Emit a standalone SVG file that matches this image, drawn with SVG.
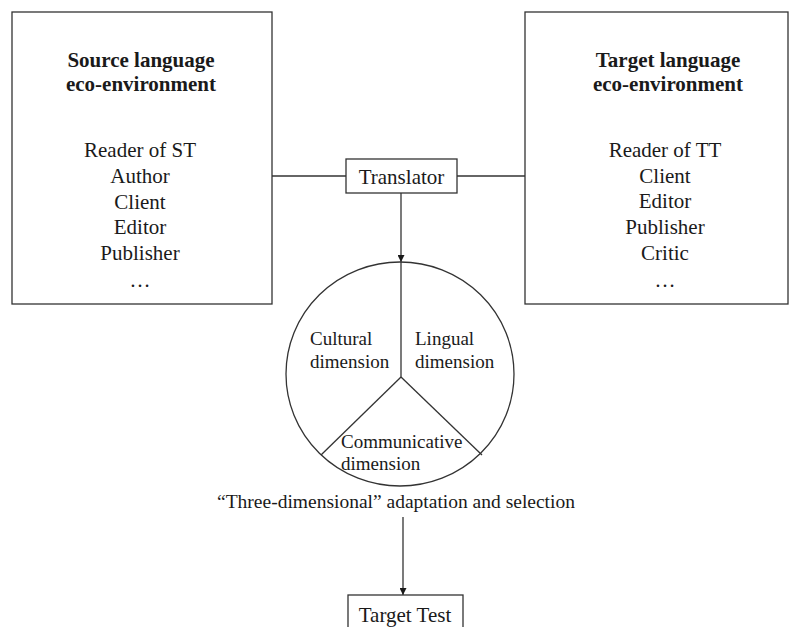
<svg xmlns="http://www.w3.org/2000/svg" width="789" height="627" viewBox="0 0 789 627">
<style>
  .box { fill: #ffffff; stroke: #333333; stroke-width: 1.3; }
  .ln { fill: none; stroke: #333333; stroke-width: 1.3; }
  .t { font-family: "Liberation Serif", "Times New Roman", serif; fill: #1a1a1a; }
  .b { font-weight: bold; font-size: 21px; }
  .m { font-size: 21px; }
  .s { font-size: 19px; }
</style>
<defs>
  <marker id="ah" viewBox="0 0 10 10" refX="10" refY="5" markerWidth="7" markerHeight="7" markerUnits="userSpaceOnUse" orient="auto">
    <path d="M0,0 L10,5 L0,10 Z" fill="#1a1a1a"/>
  </marker>
</defs>
<rect width="789" height="627" fill="#ffffff"/>

<g id="connectors">
  <line class="ln" x1="272" y1="176" x2="346" y2="176"/>
  <line class="ln" x1="457" y1="176" x2="525" y2="176"/>
  <line class="ln" x1="401" y1="193" x2="401" y2="262" marker-end="url(#ah)"/>
  <line class="ln" x1="403" y1="517" x2="403" y2="595" marker-end="url(#ah)"/>
</g>

<g id="source">
  <rect class="box" x="12" y="12" width="260" height="292"/>
  <text class="t b" x="141" y="67" text-anchor="middle">Source language</text>
  <text class="t b" x="141" y="91" text-anchor="middle">eco-environment</text>
  <text class="t m" x="140" y="157" text-anchor="middle">Reader of ST</text>
  <text class="t m" x="140" y="183" text-anchor="middle">Author</text>
  <text class="t m" x="140" y="209" text-anchor="middle">Client</text>
  <text class="t m" x="140" y="234" text-anchor="middle">Editor</text>
  <text class="t m" x="140" y="260" text-anchor="middle">Publisher</text>
  <text class="t m" x="140" y="287" text-anchor="middle">…</text>
</g>

<g id="target">
  <rect class="box" x="525" y="12" width="263" height="292"/>
  <text class="t b" x="668" y="67" text-anchor="middle">Target language</text>
  <text class="t b" x="668" y="91" text-anchor="middle">eco-environment</text>
  <text class="t m" x="665" y="157" text-anchor="middle">Reader of TT</text>
  <text class="t m" x="665" y="183" text-anchor="middle">Client</text>
  <text class="t m" x="665" y="208" text-anchor="middle">Editor</text>
  <text class="t m" x="665" y="234" text-anchor="middle">Publisher</text>
  <text class="t m" x="665" y="260" text-anchor="middle">Critic</text>
  <text class="t m" x="665" y="287" text-anchor="middle">…</text>
</g>

<g id="translator">
  <rect class="box" x="346" y="159" width="111" height="34"/>
  <text class="t m" x="401.5" y="184" text-anchor="middle">Translator</text>
</g>

<g id="dimensions">
  <ellipse class="ln" cx="400" cy="374" rx="114" ry="112"/>
  <line class="ln" x1="401" y1="262" x2="401" y2="377"/>
  <line class="ln" x1="401" y1="377" x2="321" y2="455"/>
  <line class="ln" x1="401" y1="377" x2="482" y2="455"/>
  <text class="t s" x="310" y="345">Cultural</text>
  <text class="t s" x="310" y="368">dimension</text>
  <text class="t s" x="415" y="345">Lingual</text>
  <text class="t s" x="415" y="368">dimension</text>
  <text class="t s" x="341" y="448">Communicative</text>
  <text class="t s" x="341" y="470">dimension</text>
</g>

<g id="caption">
  <text class="t" font-size="19.5" x="396" y="508" text-anchor="middle">“Three-dimensional” adaptation and selection</text>
</g>

<g id="target-test">
  <rect class="box" x="348" y="595" width="115" height="40"/>
  <text class="t m" x="405" y="622" text-anchor="middle">Target Test</text>
</g>
</svg>
